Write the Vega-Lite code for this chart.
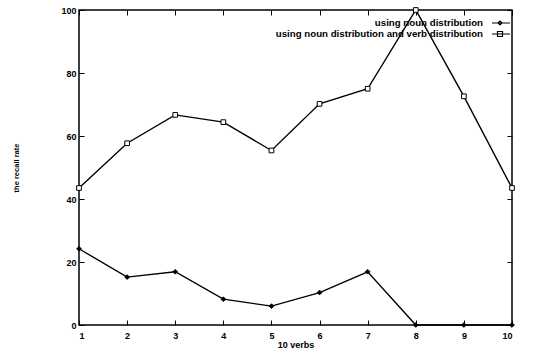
{
  "$schema": "https://vega.github.io/schema/vega-lite/v6.json",
  "autosize": {"type": "none"},
  "width": 433,
  "height": 315,
  "padding": {"left": 79, "top": 10, "right": 31, "bottom": 30},
  "background": "white",
  "config": {
    "view": {"stroke": "black", "strokeWidth": 1.5},
    "font": "Liberation Sans",
    "axis": {
      "labelFont": "Liberation Sans", "labelFontWeight": "bold", "labelFontSize": 9, "labelColor": "black",
      "titleFont": "Liberation Sans", "titleFontWeight": "bold", "titleColor": "black",
      "domain": false, "grid": false, "tickColor": "black", "tickWidth": 1, "tickSize": -5
    }
  },
  "resolve": {"axis": {"x": "independent", "y": "independent"}},
  "data": {"values": [
    {"verb": 1, "series": "using noun distribution", "rate": 24.2},
    {"verb": 2, "series": "using noun distribution", "rate": 15.2},
    {"verb": 3, "series": "using noun distribution", "rate": 16.9},
    {"verb": 4, "series": "using noun distribution", "rate": 8.2},
    {"verb": 5, "series": "using noun distribution", "rate": 6.0},
    {"verb": 6, "series": "using noun distribution", "rate": 10.3},
    {"verb": 7, "series": "using noun distribution", "rate": 16.9},
    {"verb": 8, "series": "using noun distribution", "rate": 0},
    {"verb": 9, "series": "using noun distribution", "rate": 0},
    {"verb": 10, "series": "using noun distribution", "rate": 0},
    {"verb": 1, "series": "using noun distribution and verb distribution", "rate": 43.5},
    {"verb": 2, "series": "using noun distribution and verb distribution", "rate": 57.7},
    {"verb": 3, "series": "using noun distribution and verb distribution", "rate": 66.7},
    {"verb": 4, "series": "using noun distribution and verb distribution", "rate": 64.4},
    {"verb": 5, "series": "using noun distribution and verb distribution", "rate": 55.4},
    {"verb": 6, "series": "using noun distribution and verb distribution", "rate": 70.2},
    {"verb": 7, "series": "using noun distribution and verb distribution", "rate": 75.0},
    {"verb": 8, "series": "using noun distribution and verb distribution", "rate": 100},
    {"verb": 9, "series": "using noun distribution and verb distribution", "rate": 72.6},
    {"verb": 10, "series": "using noun distribution and verb distribution", "rate": 43.5}
  ]},
  "layer": [
    {
      "mark": {"type": "line", "strokeWidth": 1.4, "clip": false},
      "encoding": {
        "x": {"field": "verb", "type": "quantitative",
              "scale": {"domain": [1, 10], "nice": false},
              "axis": {"values": [1,2,3,4,5,6,7,8,9,10], "title": "10 verbs", "titleFontSize": 9, "titlePadding": 0, "labelPadding": 11}},
        "y": {"field": "rate", "type": "quantitative",
              "scale": {"domain": [0, 100], "nice": false},
              "axis": {"values": [0,20,40,60,80,100], "title": "the recall rate", "titleFontSize": 7.5, "titlePadding": 40, "labelPadding": 8}},
        "stroke": {"field": "series", "type": "nominal",
                   "scale": {"domain": ["using noun distribution", "using noun distribution and verb distribution"], "range": ["black", "black"]},
                   "legend": {
                     "title": null, "orient": "none", "legendX": 416, "legendY": 7, "padding": 0,
                     "labelAlign": "right", "labelOffset": -24, "labelFontSize": 9.7, "labelFontWeight": "bold", "labelFont": "Liberation Sans", "labelColor": "black",
                     "symbolSize": 100, "symbolStrokeWidth": 1.2, "symbolStrokeColor": "black", "symbolFillColor": "transparent",
                     "rowPadding": -1, "labelLimit": 400,
                     "encode": {"symbols": {"update": {"shape": {"signal": "datum.value === 'using noun distribution' ? 'M-1.8,0H1.8M-0.2,-0.4L0.2,0L-0.2,0.4L-0.6,0Z' : 'M-1.8,0H1.8M-0.7,-0.5H0.3V0.5H-0.7Z'"}}}}
                   }}
      }
    },
    {
      "mark": {"type": "point", "filled": false, "strokeWidth": 1, "opacity": 1, "clip": false},
      "encoding": {
        "x": {"field": "verb", "type": "quantitative", "axis": {"orient": "top", "labels": false, "title": null, "values": [1,2,3,4,5,6,7,8,9,10]}},
        "y": {"field": "rate", "type": "quantitative", "axis": {"orient": "right", "labels": false, "title": null, "values": [0,20,40,60,80,100]}},
        "shape": {"condition": {"test": "datum.series === 'using noun distribution'", "value": "diamond"}, "value": "square"},
        "fill": {"condition": {"test": "datum.series === 'using noun distribution'", "value": "black"}, "value": "white"},
        "size": {"value": 22},
        "stroke": {"value": "black"}
      }
    }
  ]
}
